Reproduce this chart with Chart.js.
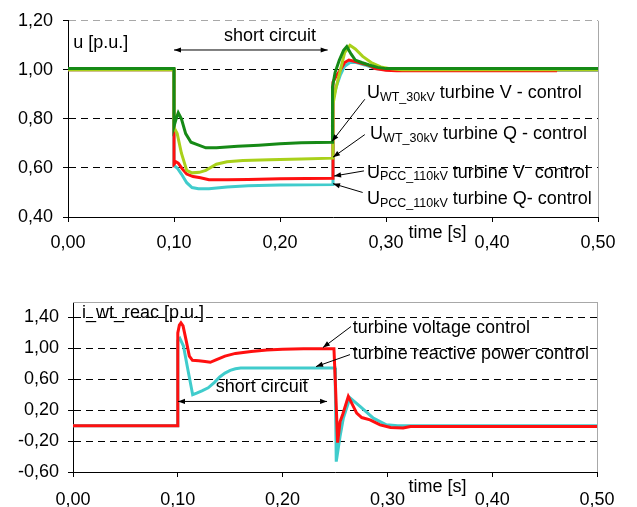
<!DOCTYPE html>
<html><head><meta charset="utf-8">
<script src="https://cdn.jsdelivr.net/npm/chart.js@4/dist/chart.umd.min.js"></script>
<style>
html,body{margin:0;padding:0;background:#fff;}
#wrap{position:relative;width:637px;height:507px;overflow:hidden;background:#fff;}
canvas{position:absolute;left:0;}
#c1{top:0;width:637px;height:260px;}
#c2{top:250px;width:637px;height:257px;}
</style></head><body>
<div id="wrap"><canvas id="c1" width="637" height="260"></canvas><canvas id="c2" width="637" height="257"></canvas></div>
<script>
// ---------- tick labels ----------
const xTicks = [0, 0.1, 0.2, 0.3, 0.4, 0.5];
const uTicks = [0.4, 0.6, 0.8, 1.0, 1.2];
const iTicks = [-0.6, -0.2, 0.2, 0.6, 1.0, 1.4];

// ---------- top chart: voltages ----------
const tWtV = [0, 0.1, 0.1, 0.102, 0.104, 0.107, 0.111, 0.116, 0.122, 0.13, 0.14, 0.16, 0.18, 0.20, 0.22, 0.2495, 0.2495, 0.252, 0.256, 0.260, 0.263, 0.267, 0.271, 0.277, 0.284, 0.292, 0.30, 0.31, 0.5];
const uWtV = [1.005, 1.005, 0.77, 0.80, 0.825, 0.80, 0.74, 0.705, 0.695, 0.682, 0.682, 0.688, 0.693, 0.699, 0.703, 0.705, 0.93, 0.99, 1.04, 1.08, 1.095, 1.065, 1.04, 1.03, 1.02, 1.01, 1.005, 1.005, 1.005];

const tWtQ = [0, 0.1, 0.1, 0.103, 0.107, 0.112, 0.117, 0.124, 0.13, 0.14, 0.15, 0.165, 0.19, 0.22, 0.25, 0.25, 0.253, 0.257, 0.261, 0.266, 0.271, 0.278, 0.286, 0.295, 0.305, 0.315, 0.5];
const uWtQ = [1.0, 1.0, 0.765, 0.74, 0.66, 0.59, 0.58, 0.582, 0.59, 0.615, 0.625, 0.63, 0.633, 0.637, 0.64, 0.86, 0.93, 1.00, 1.07, 1.10, 1.085, 1.055, 1.03, 1.012, 1.004, 1.0, 1.0];

const tPccV = [0, 0.1, 0.1, 0.102, 0.104, 0.108, 0.112, 0.118, 0.125, 0.133, 0.15, 0.17, 0.20, 0.25, 0.25, 0.253, 0.257, 0.261, 0.265, 0.27, 0.276, 0.283, 0.29, 0.30, 0.31, 0.46, 0.46, 0.5];
const uPccV = [1.0, 1.0, 0.615, 0.625, 0.62, 0.595, 0.575, 0.565, 0.56, 0.552, 0.552, 0.553, 0.556, 0.558, 0.95, 0.975, 1.0, 1.03, 1.04, 1.035, 1.028, 1.02, 1.005, 0.998, 0.996, 0.996, 1.0, 1.0];

const tPccQ = [0, 0.1, 0.1, 0.103, 0.107, 0.112, 0.117, 0.123, 0.133, 0.15, 0.17, 0.20, 0.25, 0.25, 0.253, 0.257, 0.261, 0.266, 0.272, 0.28, 0.29, 0.30, 0.31, 0.5];
const uPccQ = [1.0, 1.0, 0.61, 0.6, 0.575, 0.54, 0.52, 0.515, 0.515, 0.522, 0.527, 0.53, 0.532, 0.88, 0.93, 0.98, 1.015, 1.03, 1.03, 1.02, 1.005, 1.0, 0.998, 0.998];

// ---------- bottom chart: reactive current ----------
const tIV = [0, 0.0995, 0.1, 0.1015, 0.103, 0.105, 0.108, 0.111, 0.114, 0.12, 0.126, 0.131, 0.137, 0.145, 0.155, 0.17, 0.185, 0.20, 0.22, 0.249, 0.2505, 0.2525, 0.2548, 0.2575, 0.2627, 0.2707, 0.2755, 0.2834, 0.293, 0.303, 0.315, 0.322, 0.5];
const iV  = [0, 0, 1.2, 1.3, 1.33, 1.29, 1.1, 0.9, 0.845, 0.84, 0.83, 0.82, 0.855, 0.9, 0.935, 0.96, 0.98, 0.99, 0.995, 0.995, 0.5, -0.22, 0.05, 0.15, 0.378, 0.162, 0.105, 0.075, 0.01, -0.025, -0.03, -0.01, -0.01];

const tIQ = [0, 0.0995, 0.1, 0.102, 0.1054, 0.109, 0.1142, 0.118, 0.123, 0.129, 0.135, 0.14, 0.145, 0.15, 0.155, 0.16, 0.25, 0.2505, 0.2512, 0.2548, 0.258, 0.2643, 0.2739, 0.2866, 0.299, 0.31, 0.5];
const iQ  = [0, 0, 1.1, 1.13, 1.03, 0.768, 0.4, 0.42, 0.45, 0.49, 0.56, 0.63, 0.68, 0.715, 0.735, 0.745, 0.745, 0.3, -0.466, -0.14, 0.1, 0.36, 0.248, 0.097, 0.01, 0.0, 0.0];

// ---------- helpers ----------
const FONT = '"Liberation Sans", Arial, sans-serif';
const FS = 18, SUBFS = 12.5;
const fmt = v => (Math.abs(v) < 1e-9 ? 0 : v).toFixed(2).replace('.', ',');
const pts = (ts, vs) => ts.map((t, i) => ({x: t, y: vs[i]}));

function line(label, data, color) {
  return {label, data, borderColor: color, backgroundColor: color, borderWidth: 3,
    pointRadius: 0, tension: 0, fill: false};
}

function axes(o) {
  return {
    x: {
      type: 'linear', min: 0, max: 0.5,
      afterBuildTicks: s => { s.ticks = xTicks.map(v => ({value: v})); },
      afterFit: s => { s.height = o.xh; },
      ticks: {callback: v => fmt(v), color: '#000', font: {family: FONT, size: FS}, padding: o.xpad, maxRotation: 0, autoSkip: false},
      grid: {drawOnChartArea: false, drawTicks: true, tickLength: 5, tickColor: '#000', color: '#000'},
      border: {display: true, color: '#000', width: 1}
    },
    y: {
      type: 'linear', min: o.ymin, max: o.ymax,
      afterBuildTicks: s => { s.ticks = o.yt.map(v => ({value: v})); },
      afterFit: s => { s.width = o.yw; },
      ticks: {callback: v => fmt(v), color: '#000', font: {family: FONT, size: FS}, padding: o.ypad, autoSkip: false},
      grid: {
        color: c => {
          const v = c.tick ? c.tick.value : 0;
          if (Math.abs(v - o.ymax) < 1e-9) return '#a8a8a8';
          if (Math.abs(v - o.ymin) < 1e-9) return 'rgba(0,0,0,0)';
          return '#000';
        },
        lineWidth: 1, tickLength: 5, tickColor: '#000', drawTicks: true
      },
      border: {display: true, color: '#000', width: 1, dash: [7, 5]}
    }
  };
}

function arrowHead(ctx, xf, yf, xt, yt) {
  const a = Math.atan2(yt - yf, xt - xf), L = 7, W = 2.6;
  ctx.beginPath();
  ctx.moveTo(xt, yt);
  ctx.lineTo(xt - L * Math.cos(a) + W * Math.sin(a), yt - L * Math.sin(a) - W * Math.cos(a));
  ctx.lineTo(xt - L * Math.cos(a) - W * Math.sin(a), yt - L * Math.sin(a) + W * Math.cos(a));
  ctx.closePath();
  ctx.fill();
}

function richText(ctx, x, y, parts, align) {
  let w = 0;
  parts.forEach(p => { ctx.font = (p[1] ? SUBFS : FS) + 'px ' + FONT; w += ctx.measureText(p[0]).width; });
  let cx = align === 'center' ? x - w / 2 : x;
  ctx.textAlign = 'left';
  ctx.textBaseline = 'middle';
  parts.forEach(p => {
    ctx.font = (p[1] ? SUBFS : FS) + 'px ' + FONT;
    ctx.fillText(p[0], cx, y + (p[1] ? 4 : 0));
    cx += ctx.measureText(p[0]).width;
  });
}

const decor = {
  id: 'decor',
  afterDraw(chart, args, opts) {
    const {ctx, chartArea: a, scales: {x, y}} = chart;
    ctx.save();
    ctx.strokeStyle = '#a8a8a8';
    ctx.lineWidth = 1;
    ctx.beginPath();
    ctx.moveTo(Math.round(a.right) + 0.5, a.top);
    ctx.lineTo(Math.round(a.right) + 0.5, a.bottom);
    if (opts.topBorder) { ctx.moveTo(a.left, Math.round(a.top) + 0.5); ctx.lineTo(a.right, Math.round(a.top) + 0.5); }
    ctx.stroke();
    ctx.fillStyle = '#000';
    ctx.strokeStyle = '#000';
    ctx.lineWidth = 1;
    (opts.arrows || []).forEach(r => {
      const x1 = x.getPixelForValue(r[0]), y1 = y.getPixelForValue(r[1]);
      const x2 = x.getPixelForValue(r[2]), y2 = y.getPixelForValue(r[3]);
      ctx.beginPath(); ctx.moveTo(x1, y1); ctx.lineTo(x2, y2); ctx.stroke();
      arrowHead(ctx, x1, y1, x2, y2);
      if (r[4]) arrowHead(ctx, x2, y2, x1, y1);
    });
    (opts.texts || []).forEach(tx => {
      const px = x.getPixelForValue(tx.t);
      const py = tx.below !== undefined ? a.bottom + tx.below : y.getPixelForValue(tx.v);
      richText(ctx, px, py, tx.parts, tx.align);
    });
    ctx.restore();
  }
};

// nudge layout padding so that the plot area lands where the reference has it
function fitArea(chart, opts, target) {
  for (let k = 0; k < 4; k++) {
    const a = chart.chartArea, p = opts.layout.padding;
    const dt = target.top - a.top, dr = a.right - target.right;
    const dl = target.left - a.left, db = a.bottom - target.bottom;
    if (Math.abs(dt) < 0.3 && Math.abs(dr) < 0.3 && Math.abs(dl) < 0.3 && Math.abs(db) < 0.3) break;
    p.top += dt; p.right += dr; p.left = Math.max(0, p.left + dl); p.bottom = Math.max(0, p.bottom + db);
    chart.update();
  }
}

Chart.defaults.font.family = FONT;

const opts1 = {
  responsive: false, animation: false, devicePixelRatio: 1,
  layout: {padding: {top: 16, right: 39, left: 0, bottom: 0}},
  scales: axes({ymin: 0.4, ymax: 1.2, yt: uTicks, yw: 68, xh: 43, ypad: 10, xpad: 10}),
  plugins: {
    legend: {display: false}, tooltip: {enabled: false},
    decor: {
      topBorder: false,
      arrows: [
        [0.10, 1.081, 0.245, 1.081, true],
        [0.280, 0.880, 0.249, 0.708],
        [0.280, 0.736, 0.250, 0.644],
        [0.2792, 0.588, 0.251, 0.567],
        [0.278, 0.500, 0.250, 0.536]
      ],
      texts: [
        {t: 0.005, v: 1.108, parts: [['u [p.u.]']]},
        {t: 0.1906, v: 1.136, align: 'center', parts: [['short circuit']]},
        {t: 0.282, v: 0.905, parts: [['U'], ['WT_30kV', 1], [' turbine V - control']]},
        {t: 0.285, v: 0.737, parts: [['U'], ['WT_30kV', 1], [' turbine Q - control']]},
        {t: 0.282, v: 0.581, parts: [['U'], ['PCC_110kV', 1], [' turbine V  control']]},
        {t: 0.282, v: 0.472, parts: [['U'], ['PCC_110kV', 1], [' turbine Q- control']]},
        {t: 0.3486, below: 16, align: 'center', parts: [['time [s]']]}
      ]
    }
  }
};

const ch1 = new Chart(document.getElementById('c1'), {
  type: 'line',
  data: {datasets: [
    line('UWT_30kV turbine V - control', pts(tWtV, uWtV), '#168a16'),
    line('UWT_30kV turbine Q - control', pts(tWtQ, uWtQ), '#a9d11a'),
    line('UPCC_110kV turbine V control', pts(tPccV, uPccV), '#ff1010'),
    line('UPCC_110kV turbine Q- control', pts(tPccQ, uPccQ), '#40cccc')
  ]},
  options: opts1,
  plugins: [decor]
});
fitArea(ch1, opts1, {left: 68, right: 598, top: 16, bottom: 217});

const opts2 = {
  responsive: false, animation: false, devicePixelRatio: 1,
  layout: {padding: {top: 52, right: 40, left: 0, bottom: 0}},
  scales: axes({ymin: -0.6, ymax: 1.6, yt: iTicks, yw: 73, xh: 35, ypad: 9, xpad: 12}),
  plugins: {
    legend: {display: false}, tooltip: {enabled: false},
    decor: {
      topBorder: true,
      arrows: [
        [0.1002, 0.313, 0.2424, 0.313, true],
        [0.2653, 1.283, 0.2385, 1.010],
        [0.2643, 0.919, 0.2319, 0.764]
      ],
      texts: [
        {t: 0.0086, v: 1.452, parts: [['i_wt_reac [p.u.]']]},
        {t: 0.18, v: 0.504, align: 'center', parts: [['short circuit']]},
        {t: 0.267, v: 1.257, parts: [['turbine voltage control']]},
        {t: 0.267, v: 0.932, parts: [['turbine reactive power control']]},
        {t: 0.3478, below: 15, align: 'center', parts: [['time [s]']]}
      ]
    }
  }
};

const ch2 = new Chart(document.getElementById('c2'), {
  type: 'line',
  data: {datasets: [
    line('turbine voltage control', pts(tIV, iV), '#ff1010'),
    line('turbine reactive power control', pts(tIQ, iQ), '#40cccc')
  ]},
  options: opts2,
  plugins: [decor]
});
fitArea(ch2, opts2, {left: 73, right: 597, top: 52, bottom: 222});
</script>
</body></html>
